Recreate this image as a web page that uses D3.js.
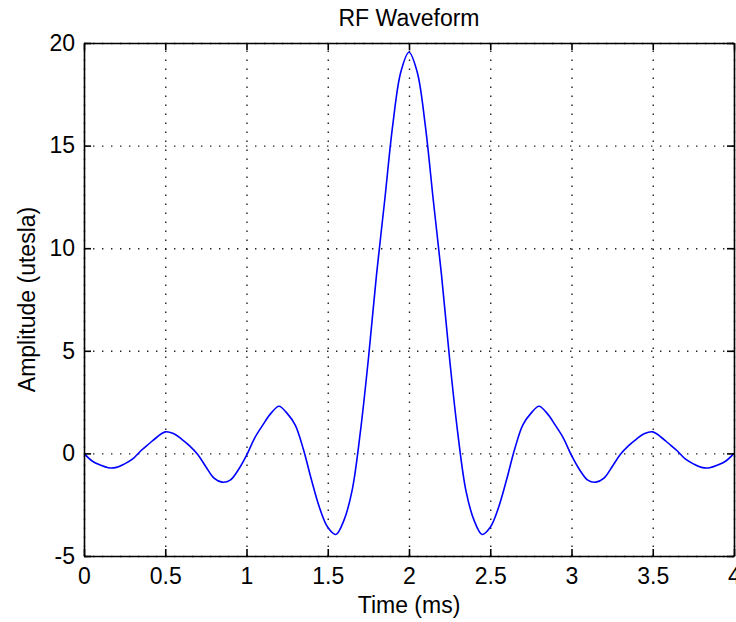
<!DOCTYPE html>
<html>
<head>
<meta charset="utf-8">
<script src="https://cdn.jsdelivr.net/npm/d3@7"></script>
<style>
  body { margin: 0; background: #fff; }
  text { font-family: "Liberation Sans", Arial, sans-serif; }
</style>
</head>
<body>
<div id="chart"></div>
<script>
// time samples (ms) and amplitude
var timeMs = [0, 0.05, 0.1, 0.15, 0.2, 0.25, 0.3, 0.35, 0.4, 0.45, 0.5, 0.55, 0.6, 0.65, 0.7, 0.75, 0.8, 0.85, 0.9, 0.95,
  1, 1.05, 1.1, 1.15, 1.2, 1.25, 1.3, 1.35, 1.4, 1.45, 1.5, 1.55, 1.6, 1.65, 1.7, 1.75, 1.8, 1.85, 1.9, 1.95,
  2, 2.05, 2.1, 2.15, 2.2, 2.25, 2.3, 2.35, 2.4, 2.45, 2.5, 2.55, 2.6, 2.65, 2.7, 2.75, 2.8, 2.85, 2.9, 2.95,
  3, 3.05, 3.1, 3.15, 3.2, 3.25, 3.3, 3.35, 3.4, 3.45, 3.5, 3.55, 3.6, 3.65, 3.7, 3.75, 3.8, 3.85, 3.9, 3.95, 4];

var amplitude = [0, -0.37, -0.57, -0.7, -0.68, -0.51, -0.27, 0.13, 0.47, 0.8, 1.05, 0.97, 0.7, 0.37, -0.05, -0.65, -1.2, -1.4, -1.3, -0.8,
  -0.1, 0.75, 1.38, 1.95, 2.3, 1.95, 1.38, 0.2, -1.3, -2.66, -3.6, -3.95, -3.25, -1.8, 1.0, 4.6, 8.7, 12.3, 16.0, 18.6,
  19.55, 18.6, 16.0, 12.3, 8.7, 4.6, 1.0, -1.8, -3.25, -3.95, -3.6, -2.66, -1.3, 0.2, 1.38, 1.95, 2.3, 1.95, 1.38, 0.75,
  -0.1, -0.8, -1.3, -1.4, -1.2, -0.65, -0.05, 0.37, 0.7, 0.97, 1.05, 0.8, 0.47, 0.13, -0.27, -0.51, -0.68, -0.7, -0.57, -0.37, 0];

var xTicks = [0, 0.5, 1, 1.5, 2, 2.5, 3, 3.5, 4];
var xTickLabels = ["0", "0.5", "1", "1.5", "2", "2.5", "3", "3.5", "4"];
var yTicks = [-5, 0, 5, 10, 15, 20];
var yTickLabels = ["-5", "0", "5", "10", "15", "20"];

var W = 736, H = 622;
var margin = {top: 43, right: 2, bottom: 66, left: 84};
var width = W - margin.left - margin.right;
var height = H - margin.top - margin.bottom;
var fontSize = 23;

var svg = d3.select('#chart').append('svg')
    .attr('width', W)
    .attr('height', H);

var g = svg.append('g')
    .attr('transform', 'translate(' + margin.left + ',' + margin.top + ')');

var x = d3.scaleLinear().domain([0, 4]).range([0, width]);
var y = d3.scaleLinear().domain([-5, 20]).range([height, 0]);

// dotted grid
var gridX = g.append('g')
    .attr('transform', 'translate(0,' + height + ')')
    .call(d3.axisBottom(x).tickValues(xTicks).tickSize(-height).tickFormat(''));
var gridY = g.append('g')
    .call(d3.axisLeft(y).tickValues(yTicks).tickSize(-width).tickFormat(''));
[gridX, gridY].forEach(function(gr) {
  gr.select('.domain').remove();
  gr.selectAll('line')
    .attr('stroke', '#222')
    .attr('stroke-width', 1.4)
    .attr('stroke-dasharray', '1.4,7.6');
});

// waveform
var data = timeMs.map(function(t, i) { return {x: t, y: amplitude[i]}; });
g.append('path')
    .datum(data)
    .attr('fill', 'none')
    .attr('stroke', '#0000ff')
    .attr('stroke-width', 1.6)
    .attr('d', d3.line()
      .curve(d3.curveCatmullRom.alpha(0.5))
      .x(function(d) { return x(d.x); })
      .y(function(d) { return y(d.y); }));

// axes with inward ticks on all four sides
var axB = g.append('g')
    .attr('transform', 'translate(0,' + height + ')')
    .call(d3.axisBottom(x).tickValues(xTicks).tickSizeInner(-7).tickSizeOuter(0).tickPadding(11.5)
      .tickFormat(function(d, i) { return xTickLabels[i]; }));
var axL = g.append('g')
    .call(d3.axisLeft(y).tickValues(yTicks).tickSizeInner(-7).tickSizeOuter(0).tickPadding(9)
      .tickFormat(function(d, i) { return yTickLabels[i]; }));
var axT = g.append('g')
    .call(d3.axisTop(x).tickValues(xTicks).tickSizeInner(-7).tickSizeOuter(0).tickFormat(''));
var axR = g.append('g')
    .attr('transform', 'translate(' + width + ',0)')
    .call(d3.axisRight(y).tickValues(yTicks).tickSizeInner(-7).tickSizeOuter(0).tickFormat(''));

[axB, axL, axT, axR].forEach(function(ax) {
  ax.select('.domain').attr('stroke', '#000').attr('stroke-width', 1.6);
  ax.selectAll('.tick line').attr('stroke', '#000').attr('stroke-width', 1.6);
  ax.selectAll('text')
    .attr('fill', '#000')
    .style('font-size', fontSize + 'px')
    .style('font-family', '"Liberation Sans", Arial, sans-serif');
});

// title and axis labels
svg.append('text')
    .attr('x', margin.left + width / 2)
    .attr('y', 26)
    .attr('text-anchor', 'middle')
    .style('font-size', fontSize + 'px')
    .text('RF Waveform');

svg.append('text')
    .attr('x', margin.left + width / 2)
    .attr('y', 613)
    .attr('text-anchor', 'middle')
    .style('font-size', fontSize + 'px')
    .text('Time (ms)');

svg.append('text')
    .attr('transform', 'translate(35,' + (margin.top + height / 2) + ') rotate(-90)')
    .attr('text-anchor', 'middle')
    .style('font-size', fontSize + 'px')
    .text('Amplitude (utesla)');
</script>
</body>
</html>
